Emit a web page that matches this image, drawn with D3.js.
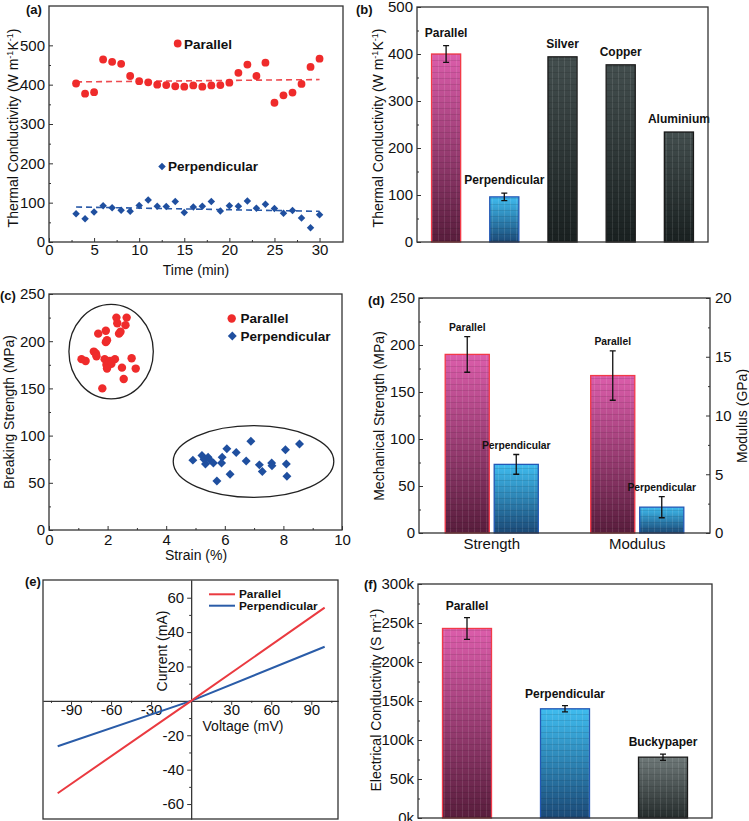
<!DOCTYPE html>
<html>
<head>
<meta charset="utf-8">
<script src="https://d3js.org/d3.v7.min.js"></script>
<style>
body { margin: 0; background: #fff; }
svg text { font-family: Arial, "Liberation Sans", sans-serif; fill: #111; }
</style>
</head>
<body>
<svg id="fig" width="749" height="821"></svg>
<script>
// (a) thermal conductivity vs time
let timeMin = [3,4,5,6,7,8,9,10,11,12,13,14,15,16,17,18,19,20,21,22,23,24,25,26,27,28,29,30];
let tcParallel = [403,377,381,464,458,453,422,409,406,400,399,396,395,398,395,398,399,405,430,451,422,456,354,373,380,402,445,466];
let tcPerp = [72,59,76,92,87,81,78,93,107,91,90,103,75,89,91,103,79,92,91,104,86,96,85,73,80,61,36,69];
let fitTime = [3, 30];
let fitParallel = [407, 413];
let fitPerp = [89, 78];
let ticksA_x = [0,5,10,15,20,25,30];
let ticksA_y = [0,100,200,300,400,500];

// (b) thermal conductivity comparison
let matNames = ['Parallel','Perpendicular','Silver','Copper','Aluminium'];
let matValues = [400, 96, 394, 377, 234];
let matErr = [18, 8, 0, 0, 0];
let ticksB_y = [0,100,200,300,400,500];

// (c) breaking strength vs strain
let strainPar = [2.30,2.65,2.33,2.61,1.68,1.94,1.94,1.98,2.39,2.44,1.11,1.25,1.53,1.60,1.62,1.90,2.08,2.25,1.96,2.13,1.98,2.82,2.49,2.96,2.55,1.82];
let strengthPar = [225,225,219,217,208,211,199,201,208,210,181,179,189,187,184,181,179,181,175,176,171,182,172,171,160,150];
let strainPerp = [4.91,5.22,5.29,5.43,5.34,5.50,5.61,5.91,5.89,6.07,6.39,6.18,5.73,6.73,6.89,7.18,7.28,7.60,7.61,8.07,8.55,8.10,8.12];
let strengthPerp = [74,79,75,77,70,74,71,77,71,86,82,59,52,73,94,69,62,71,68,85,91,70,57];
let ellipsePar = [2.12, 189, 1.44, 50];   // cx, cy, rx, ry in data units
let ellipsePerp = [6.98, 72.5, 2.74, 38];
let ticksC_x = [0,2,4,6,8,10];
let ticksC_y = [0,50,100,150,200,250];

// (d) mechanical strength and modulus
let mechGroups = ['Strength','Modulus'];
let mechSeries = ['Parallel','Perpendicular'];
let mechParallel = [190, 13.4];
let mechPerp = [73, 2.2];
let mechParErr = [19, 2.1];
let mechPerpErr = [10.5, 0.9];
let ticksD_y = [0,50,100,150,200,250];
let ticksD_y2 = [0,5,10,15,20];

// (e) I-V curves
let voltage = [-100, 0, 100];
let currentPar = [-53.7, 0, 54.2];
let currentPerp = [-26.4, 0, 31.5];
let ticksE_x = [-90,-60,-30,30,60,90];
let ticksE_y = [-60,-40,-20,20,40,60];

// (f) electrical conductivity
let condNames = ['Parallel','Perpendicular','Buckypaper'];
let condValues = [243000, 140000, 78000];
let condErr = [14000, 4000, 4000];
let ticksF_y = [0,50000,100000,150000,200000,250000,300000];

const RED = '#ef2b2b', BLUE = '#1f4f9f';
const TICK_FONT = 15;
const svg = d3.select('#fig');

// gradients for the bars
const defs = svg.append('defs');
function grad(id, top, bottom) {
  let lg = defs.append('linearGradient').attr('id', id)
    .attr('x1', 0).attr('y1', 0).attr('x2', 0).attr('y2', 1);
  lg.append('stop').attr('offset', '0%').attr('stop-color', top);
  lg.append('stop').attr('offset', '100%').attr('stop-color', bottom);
}
grad('gPar', '#dc5dab', '#581d3c');
grad('gPerp', '#3fbcef', '#1b4976');
grad('gMetal', '#434e4e', '#192020');
grad('gBucky', '#6f7979', '#252c2c');
let pat = defs.append('pattern').attr('id', 'tex')
  .attr('width', 6).attr('height', 6).attr('patternUnits', 'userSpaceOnUse');
pat.append('rect').attr('width', 1).attr('height', 6).attr('fill', '#fff').attr('opacity', 0.1);
pat.append('rect').attr('width', 6).attr('height', 1).attr('fill', '#000').attr('opacity', 0.1);

const barStyle = {
  Parallel: ['url(#gPar)', '#f23a48'],
  Perpendicular: ['url(#gPerp)', '#2358b6'],
  Silver: ['url(#gMetal)', '#1a1a1a'],
  Copper: ['url(#gMetal)', '#1a1a1a'],
  Aluminium: ['url(#gMetal)', '#1a1a1a'],
  Buckypaper: ['url(#gBucky)', '#1a1a1a']
};

let fmtPlain = d => String(d);

function styleAxis(a, size) {
  a.attr('font-size', size || TICK_FONT).attr('color', '#333');
  a.select('.domain').remove();
}

function yAxisLeft(g, scale, x, major, fmt, pad) {
  let minor = [];
  for (let i = 0; i < major.length - 1; i++) minor.push((major[i] + major[i+1]) / 2);
  g.append('g').attr('transform', `translate(${x},0)`)
    .call(d3.axisLeft(scale).tickValues(minor).tickSize(-2).tickFormat(''))
    .call(a => styleAxis(a));
  g.append('g').attr('transform', `translate(${x},0)`)
    .call(d3.axisLeft(scale).tickValues(major).tickSize(-4).tickPadding(pad || 4).tickFormat(fmt))
    .call(a => styleAxis(a));
}

function yAxisRight(g, scale, x, major, fmt) {
  let minor = [];
  for (let i = 0; i < major.length - 1; i++) minor.push((major[i] + major[i+1]) / 2);
  g.append('g').attr('transform', `translate(${x},0)`)
    .call(d3.axisRight(scale).tickValues(minor).tickSize(-2).tickFormat(''))
    .call(a => styleAxis(a));
  g.append('g').attr('transform', `translate(${x},0)`)
    .call(d3.axisRight(scale).tickValues(major).tickSize(-4).tickPadding(5).tickFormat(fmt))
    .call(a => styleAxis(a));
}

function xAxisBottom(g, scale, y, major, fmt, pad) {
  let minor = [];
  for (let i = 0; i < major.length - 1; i++) minor.push((major[i] + major[i+1]) / 2);
  g.append('g').attr('transform', `translate(0,${y})`)
    .call(d3.axisBottom(scale).tickValues(minor).tickSize(-2).tickFormat(''))
    .call(a => styleAxis(a));
  g.append('g').attr('transform', `translate(0,${y})`)
    .call(d3.axisBottom(scale).tickValues(major).tickSize(-4).tickPadding(pad).tickFormat(fmt))
    .call(a => styleAxis(a));
}

function frame(g, xs, ys) {
  let [x0, x1] = xs.range(), [y0, y1] = ys.range();
  g.append('rect')
    .attr('x', Math.min(x0, x1)).attr('y', Math.min(y0, y1))
    .attr('width', Math.abs(x1 - x0)).attr('height', Math.abs(y1 - y0))
    .attr('fill', 'none').attr('stroke', '#333').attr('stroke-width', 1.3);
}

function panelLetter(x, y, s) {
  svg.append('text').attr('x', x).attr('y', y).attr('font-size', 13)
    .attr('font-weight', 'bold').text(s);
}

function yTitle(g, x, y, parts, size) {
  let t = g.append('text').attr('transform', `translate(${x},${y}) rotate(-90)`)
    .attr('text-anchor', 'middle').attr('font-size', size || 14);
  parts.forEach(p => {
    let s = t.append('tspan').text(p[0]);
    if (p[1]) s.attr('font-size', 9).attr('baseline-shift', 'super');
  });
}

function bar(g, x, w, yTop, yBase, name) {
  let st = barStyle[name];
  g.append('rect').attr('x', x).attr('y', yTop).attr('width', w).attr('height', yBase - yTop)
    .attr('fill', st[0]);
  g.append('rect').attr('x', x).attr('y', yTop).attr('width', w).attr('height', yBase - yTop)
    .attr('fill', 'url(#tex)').attr('stroke', st[1]).attr('stroke-width', 1.3);
}

function errBar(g, cx, yHi, yLo) {
  g.append('path')
    .attr('d', `M${cx},${yHi}V${yLo}M${cx-3},${yHi}H${cx+3}M${cx-3},${yLo}H${cx+3}`)
    .attr('stroke', '#111').attr('stroke-width', 1.3).attr('fill', 'none');
}

function barLabel(g, cx, y, s, size) {
  g.append('text').attr('x', cx).attr('y', y).attr('text-anchor', 'middle')
    .attr('font-size', size).attr('font-weight', 'bold').text(s);
}

const diamond = d3.symbol().type(d3.symbolSquare);

// ---------- (a)
{
  let g = svg.append('g');
  let x = d3.scaleLinear().domain([0, 32.6]).range([49, 343]);
  let y = d3.scaleLinear().domain([0, 600]).range([242, 6]);
  xAxisBottom(g, x, 242, ticksA_x, fmtPlain, 2);
  yAxisLeft(g, y, 49, ticksA_y, fmtPlain);
  frame(g, x, y);

  let line = d3.line().x(d => x(d[0])).y(d => y(d[1]));
  g.append('path').attr('d', line(d3.zip(fitTime, fitParallel)))
    .attr('stroke', '#ee4a4f').attr('stroke-width', 1.6).attr('stroke-dasharray', '6,4').attr('fill', 'none');
  g.append('path').attr('d', line(d3.zip(fitTime, fitPerp)))
    .attr('stroke', '#2a5aa8').attr('stroke-width', 1.6).attr('stroke-dasharray', '6,4').attr('fill', 'none');

  g.selectAll('.pa').data(d3.zip(timeMin, tcParallel)).join('circle')
    .attr('cx', d => x(d[0])).attr('cy', d => y(d[1])).attr('r', 3.9).attr('fill', RED);
  g.selectAll('.pb').data(d3.zip(timeMin, tcPerp)).join('path')
    .attr('d', diamond.size(28)())
    .attr('transform', d => `translate(${x(d[0])},${y(d[1])}) rotate(45)`).attr('fill', BLUE);

  // legend labels
  g.append('circle').attr('cx', 177.7).attr('cy', 43.5).attr('r', 3.9).attr('fill', RED);
  g.append('text').attr('x', 184).attr('y', 48.5).attr('font-size', 13.5).attr('font-weight', 'bold').text('Parallel');
  g.append('path').attr('d', diamond.size(28)()).attr('transform', 'translate(162,166.5) rotate(45)').attr('fill', BLUE);
  g.append('text').attr('x', 168).attr('y', 171).attr('font-size', 13.5).attr('font-weight', 'bold').text('Perpendicular');

  g.append('text').attr('x', 196).attr('y', 275).attr('text-anchor', 'middle').attr('font-size', 14).text('Time (min)');
  yTitle(g, 18, 128, [['Thermal Conductivity (W m'], ['-1', true], ['K'], ['-1', true], [')']]);
  panelLetter(26, 14, '(a)');
}

// ---------- (b)
{
  let g = svg.append('g');
  let x = d3.scaleBand().domain(matNames).range([417, 708]).paddingInner(0.5).paddingOuter(0.25);
  let y = d3.scaleLinear().domain([0, 500]).range([242, 7]);
  yAxisLeft(g, y, 417, ticksB_y, fmtPlain);
  matNames.forEach((n, i) => {
    bar(g, x(n), x.bandwidth(), y(matValues[i]), y(0), n);
    let cx = x(n) + x.bandwidth() / 2;
    if (matErr[i]) errBar(g, cx, y(matValues[i] + matErr[i]), y(matValues[i] - matErr[i]));
    barLabel(g, cx, y(matValues[i] + matErr[i]) - 9, n, 12);
  });
  frame(g, d3.scaleLinear().range([417, 708]), y);
  yTitle(g, 383, 128, [['Thermal Conductivity (W m'], ['-1', true], ['K'], ['-1', true], [')']]);
  panelLetter(356, 14, '(b)');
}

// ---------- (c)
{
  let g = svg.append('g');
  let x = d3.scaleLinear().domain([0, 10]).range([49, 342]);
  let y = d3.scaleLinear().domain([0, 250]).range([530, 294]);
  xAxisBottom(g, x, 530, ticksC_x, fmtPlain, 4);
  yAxisLeft(g, y, 49, ticksC_y, fmtPlain);
  frame(g, x, y);

  [ellipsePar, ellipsePerp].forEach(e => {
    g.append('ellipse').attr('cx', x(e[0])).attr('cy', y(e[1]))
      .attr('rx', x(e[2]) - x(0)).attr('ry', y(0) - y(e[3]))
      .attr('fill', 'none').attr('stroke', '#222').attr('stroke-width', 1.3);
  });
  g.selectAll('.ca').data(d3.zip(strainPar, strengthPar)).join('circle')
    .attr('cx', d => x(d[0])).attr('cy', d => y(d[1])).attr('r', 4.2).attr('fill', RED);
  g.selectAll('.cb').data(d3.zip(strainPerp, strengthPerp)).join('path')
    .attr('d', diamond.size(40)())
    .attr('transform', d => `translate(${x(d[0])},${y(d[1])}) rotate(45)`).attr('fill', BLUE);

  g.append('circle').attr('cx', 231.7).attr('cy', 318.5).attr('r', 4.2).attr('fill', RED);
  g.append('text').attr('x', 240.5).attr('y', 323).attr('font-size', 13.5).attr('font-weight', 'bold').text('Parallel');
  g.append('path').attr('d', diamond.size(40)()).attr('transform', 'translate(232.3,336) rotate(45)').attr('fill', BLUE);
  g.append('text').attr('x', 240.5).attr('y', 341).attr('font-size', 13.5).attr('font-weight', 'bold').text('Perpendicular');

  g.append('text').attr('x', 196).attr('y', 560).attr('text-anchor', 'middle').attr('font-size', 14).text('Strain (%)');
  yTitle(g, 14, 412, [['Breaking Strength (MPa)']]);
  panelLetter(0, 300, '(c)');
}

// ---------- (d)
{
  let g = svg.append('g');
  let x = d3.scaleBand().domain(mechGroups).range([419, 710]).paddingInner(0.36).paddingOuter(0.18);
  let xs = d3.scaleBand().domain(mechSeries).range([0, x.bandwidth()]).paddingInner(0.1);
  let yS = d3.scaleLinear().domain([0, 250]).range([533, 298]);
  let yM = d3.scaleLinear().domain([0, 20]).range([533, 298]);
  yAxisLeft(g, yS, 419, ticksD_y, fmtPlain);
  yAxisRight(g, yM, 710, ticksD_y2, fmtPlain);
  g.append('g').attr('transform', 'translate(0,533)')
    .call(d3.axisBottom(x).tickSize(0).tickPadding(5))
    .call(a => styleAxis(a));

  mechGroups.forEach((grp, i) => {
    let y = i === 0 ? yS : yM;
    let vals = [mechParallel[i], mechPerp[i]];
    let errs = [mechParErr[i], mechPerpErr[i]];
    mechSeries.forEach((s, j) => {
      let bx = x(grp) + xs(s);
      bar(g, bx, xs.bandwidth(), y(vals[j]), y(0), s);
      let cx = bx + xs.bandwidth() / 2;
      errBar(g, cx, y(vals[j] + errs[j]), y(vals[j] - errs[j]));
      barLabel(g, cx, y(vals[j] + errs[j]) - 5.5, s, 10.3);
    });
  });
  frame(g, d3.scaleLinear().range([419, 710]), yS);
  yTitle(g, 384, 416, [['Mechanical Strength (MPa)']]);
  yTitle(g, 747, 416, [['Modulus (GPa)']]);
  panelLetter(368, 305, '(d)');
}

// ---------- (e)
{
  let g = svg.append('g');
  let x = d3.scaleLinear().domain([-111, 110]).range([43, 338]);
  let y = d3.scaleLinear().domain([-68.7, 70.3]).range([819, 580]);
  let minorX = [-105,-75,-45,-15,15,45,75,105];
  let minorY = [-50,-30,-10,10,30,50];
  g.append('g').attr('transform', `translate(${x(0)},0)`)
    .call(d3.axisLeft(y).tickValues(minorY).tickSize(2).tickFormat('').tickSizeOuter(0))
    .call(a => a.attr('color', '#333'));
  g.append('g').attr('transform', `translate(${x(0)},0)`)
    .call(d3.axisLeft(y).tickValues(ticksE_y).tickSize(4).tickPadding(3).tickFormat(fmtPlain).tickSizeOuter(0))
    .call(a => a.attr('font-size', TICK_FONT).attr('color', '#333'));
  g.append('g').attr('transform', `translate(0,${y(0)})`)
    .call(d3.axisBottom(x).tickValues(minorX).tickSize(2).tickFormat('').tickSizeOuter(0))
    .call(a => a.attr('color', '#333'));
  g.append('g').attr('transform', `translate(0,${y(0)})`)
    .call(d3.axisBottom(x).tickValues(ticksE_x).tickSize(4).tickPadding(-1).tickFormat(fmtPlain).tickSizeOuter(0))
    .call(a => a.attr('font-size', TICK_FONT).attr('color', '#333'));
  frame(g, x, y);

  let line = d3.line().x(d => x(d[0])).y(d => y(d[1]));
  g.append('path').attr('d', line(d3.zip(voltage, currentPerp)))
    .attr('stroke', '#2a5ca8').attr('stroke-width', 2).attr('fill', 'none');
  g.append('path').attr('d', line(d3.zip(voltage, currentPar)))
    .attr('stroke', '#ea3a40').attr('stroke-width', 2).attr('fill', 'none');

  g.append('line').attr('x1', 209).attr('x2', 235).attr('y1', 594.3).attr('y2', 594.3).attr('stroke', '#ea3a40').attr('stroke-width', 2);
  g.append('text').attr('x', 239).attr('y', 598.3).attr('font-size', 11.8).attr('font-weight', 'bold').text('Parallel');
  g.append('line').attr('x1', 209).attr('x2', 235).attr('y1', 605.7).attr('y2', 605.7).attr('stroke', '#2a5ca8').attr('stroke-width', 2);
  g.append('text').attr('x', 239).attr('y', 610).attr('font-size', 11.8).attr('font-weight', 'bold').text('Perpendicular');

  yTitle(g, 167, 651, [['Current (mA)']]);
  g.append('text').attr('x', 243).attr('y', 731).attr('text-anchor', 'middle').attr('font-size', 14).text('Voltage (mV)');
  panelLetter(25, 586, '(e)');
}

// ---------- (f)
{
  let g = svg.append('g');
  let x = d3.scaleBand().domain(condNames).range([418, 712]).paddingInner(0.5).paddingOuter(0.25);
  let y = d3.scaleLinear().domain([0, 300000]).range([818, 584]);
  yAxisLeft(g, y, 418, ticksF_y, d => (d / 1000) + 'k');
  condNames.forEach((n, i) => {
    bar(g, x(n), x.bandwidth(), y(condValues[i]), y(0), n);
    let cx = x(n) + x.bandwidth() / 2;
    errBar(g, cx, y(condValues[i] + condErr[i]), y(condValues[i] - condErr[i]));
    barLabel(g, cx, y(condValues[i] + condErr[i]) - 8, n, 12);
  });
  frame(g, d3.scaleLinear().range([418, 712]), y);
  yTitle(g, 381, 700, [['Electrical Conductivity (S m'], ['-1', true], [')']]);
  panelLetter(364, 589, '(f)');
}
</script>
</body>
</html>
